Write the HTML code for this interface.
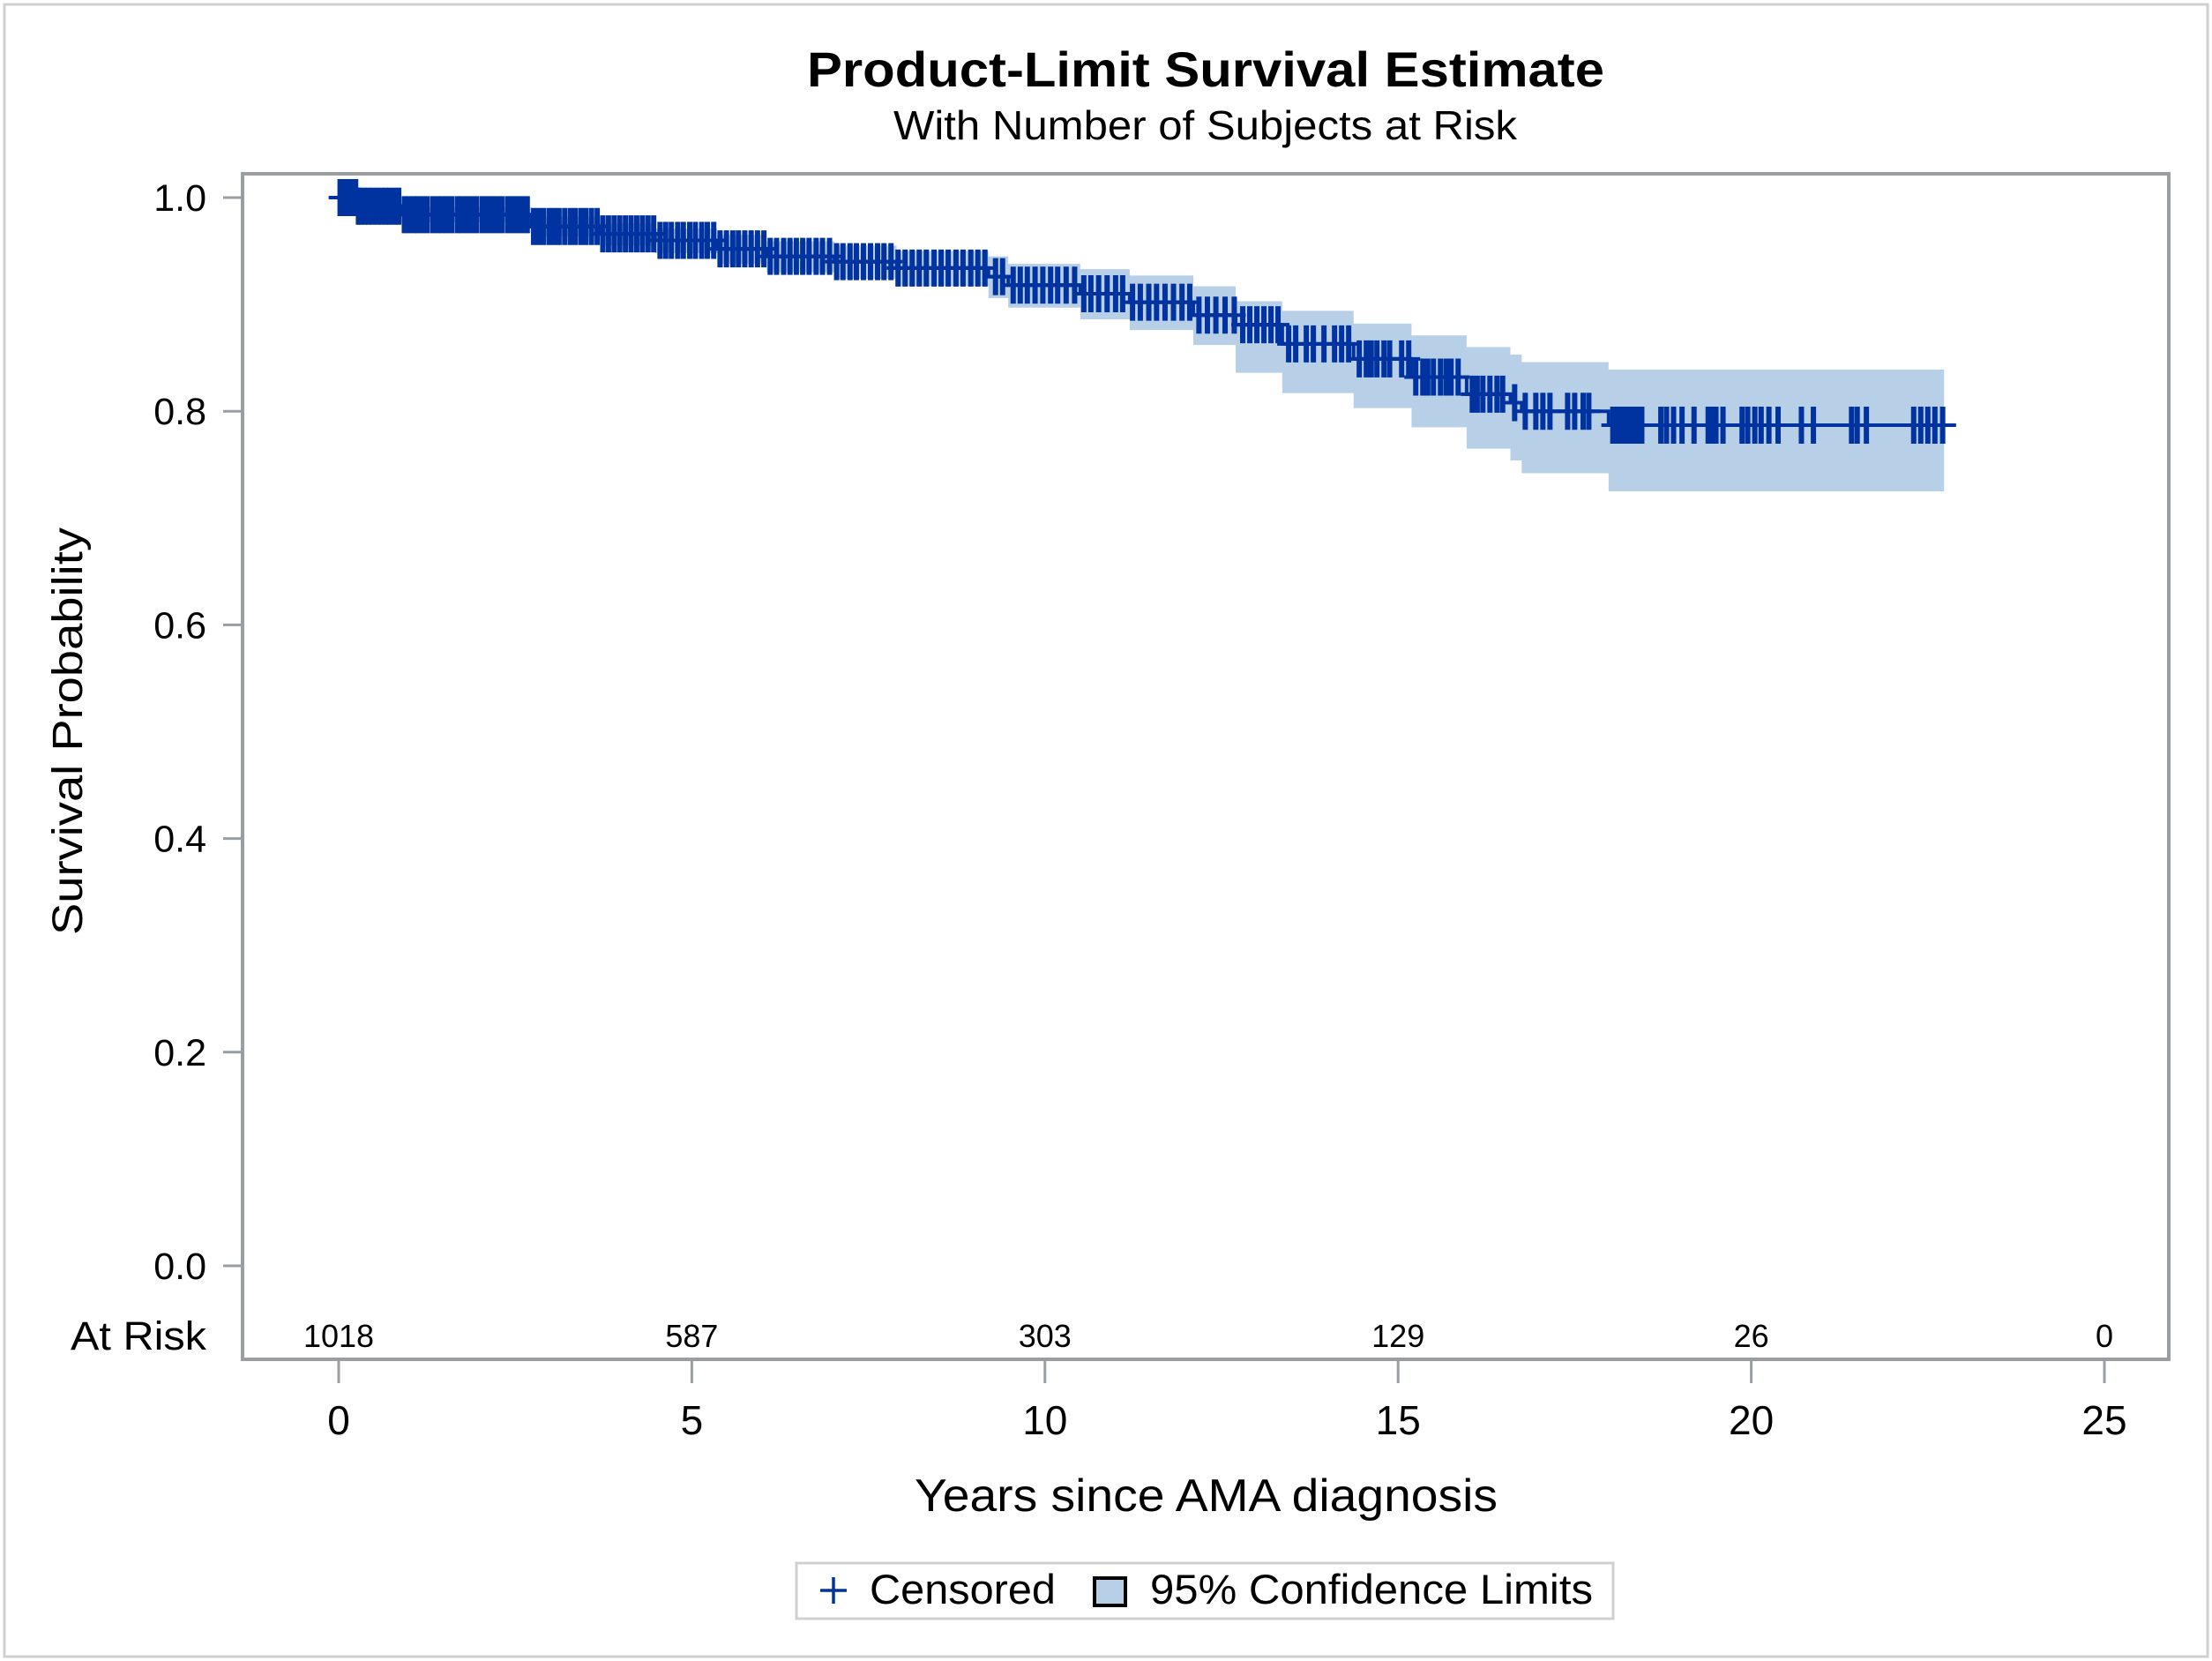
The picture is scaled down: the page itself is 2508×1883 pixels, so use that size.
<!DOCTYPE html>
<html><head><meta charset="utf-8"><style>
html,body{margin:0;padding:0;background:#fff}
svg{display:block}
text{font-family:"Liberation Sans",sans-serif;fill:#000}
</style></head><body>
<svg id="chart" width="2508" height="1883" viewBox="0 0 2508 1883" xmlns="http://www.w3.org/2000/svg">
<rect x="5" y="5" width="2498" height="1873" fill="#fff" stroke="#d0d0d0" stroke-width="3"/>
<text x="915" y="98" font-size="56" font-weight="bold" textLength="904" lengthAdjust="spacingAndGlyphs">Product-Limit Survival Estimate</text>
<text x="1013" y="158" font-size="46" textLength="707" lengthAdjust="spacingAndGlyphs">With Number of Subjects at Risk</text>
<g id="band"></g>
<g id="curve"></g>
<g id="yaxis"></g>
<g id="xaxis"></g>
<g id="risk"></g>
<rect x="275" y="197" width="2184" height="1344" fill="none" stroke="#999ea3" stroke-width="4"/>
<text x="0" y="0" font-size="48" textLength="462" lengthAdjust="spacingAndGlyphs" text-anchor="middle" transform="translate(93,829) rotate(-90)">Survival Probability</text>
<text x="1037" y="1713" font-size="52" textLength="661" lengthAdjust="spacingAndGlyphs">Years since AMA diagnosis</text>
<g>
<rect x="903" y="1772" width="926" height="63" fill="#fff" stroke="#d0d0d0" stroke-width="3"/>
<g><line x1="930" y1="1803" x2="960" y2="1803" stroke="#0033a0" stroke-width="3.5"/><line x1="945" y1="1788" x2="945" y2="1818" stroke="#0033a0" stroke-width="3.5"/></g>
<text x="986" y="1818" font-size="47" textLength="211" lengthAdjust="spacingAndGlyphs">Censored</text>
<rect x="1241" y="1789" width="35" height="31" fill="#b8cfe8" stroke="#000" stroke-width="4"/>
<text x="1304" y="1818" font-size="47" textLength="502" lengthAdjust="spacingAndGlyphs">95% Confidence Limits</text>
</g>
</svg>
<script>
const stepTimes = [0, 0.28, 0.89, 2.73, 3.70, 4.48, 5.36, 6.06, 7.02, 7.90, 9.20, 9.48, 10.5, 11.2, 12.1, 12.7, 13.36, 14.37, 15.19, 15.97, 16.59, 16.75, 17.98];
const survival = [1.0, 0.992, 0.984, 0.973, 0.966, 0.960, 0.952, 0.945, 0.940, 0.934, 0.926, 0.918, 0.910, 0.902, 0.890, 0.881, 0.863, 0.849, 0.832, 0.816, 0.808, 0.800, 0.787];
const lowerCL = [1.0, 0.986, 0.977, 0.964, 0.955, 0.948, 0.938, 0.930, 0.924, 0.917, 0.906, 0.897, 0.886, 0.876, 0.862, 0.836, 0.817, 0.803, 0.785, 0.765, 0.754, 0.742, 0.725];
const upperCL = [1.0, 0.997, 0.991, 0.982, 0.976, 0.971, 0.965, 0.959, 0.955, 0.950, 0.945, 0.938, 0.933, 0.927, 0.917, 0.903, 0.894, 0.882, 0.871, 0.860, 0.853, 0.846, 0.839];
const bandEnd = 22.73;
const lineEnd = 22.9;
const censorTimes = [0.02,0.05,0.08,0.13,0.16,0.19,0.24,0.28,0.31,0.37,0.42,0.48,0.55,0.61,0.67,0.72,0.79,0.85,0.93,0.99,1.06,1.12,1.19,1.25,1.33,1.4,1.46,1.53,1.6,1.68,1.74,1.81,1.88,1.95,2.03,2.1,2.17,2.24,2.31,2.39,2.46,2.53,2.6,2.67,2.76,2.83,2.9,2.98,3.05,3.12,3.2,3.28,3.35,3.43,3.5,3.58,3.66,3.74,3.82,3.9,3.98,4.06,4.14,4.22,4.3,4.38,4.46,4.55,4.63,4.71,4.8,4.88,4.97,5.05,5.14,5.22,5.31,5.4,5.49,5.58,5.66,5.75,5.84,5.93,6.02,6.11,6.2,6.3,6.39,6.48,6.57,6.66,6.76,6.85,6.95,7.05,7.14,7.24,7.33,7.43,7.53,7.63,7.72,7.82,7.92,8.02,8.12,8.22,8.32,8.43,8.53,8.63,8.74,8.84,8.95,9.05,9.15,9.3,9.4,9.55,9.65,9.75,9.86,9.97,10.08,10.18,10.3,10.42,10.55,10.65,10.76,10.88,11.0,11.1,11.24,11.35,11.47,11.58,11.7,11.82,11.94,12.05,12.18,12.3,12.42,12.55,12.68,12.8,12.9,13.0,13.1,13.2,13.3,13.45,13.55,13.7,13.8,13.95,14.1,14.2,14.3,14.45,14.55,14.62,14.7,14.8,14.88,15.05,15.15,15.25,15.35,15.42,15.5,15.6,15.68,15.75,15.85,16.05,16.12,16.2,16.3,16.4,16.48,16.65,16.8,16.95,17.05,17.15,17.4,17.5,17.62,17.7,18.04,18.1,18.16,18.22,18.28,18.31,18.38,18.45,18.72,18.8,18.9,19.02,19.19,19.39,19.45,19.5,19.6,19.87,19.95,20.05,20.14,20.25,20.38,20.71,20.88,21.42,21.5,21.63,22.3,22.4,22.5,22.6,22.71];
const xTicks = [0, 5, 10, 15, 20, 25];
const yTicks = [0.0, 0.2, 0.4, 0.6, 0.8, 1.0];
const yTickLabels = ["0.0", "0.2", "0.4", "0.6", "0.8", "1.0"];
const atRisk = ["1018", "587", "303", "129", "26", "0"];

const NS = "http://www.w3.org/2000/svg";
const X0 = 384, XS = 80.08, Y0 = 1435, YS = 1211;
function sx(t){ return X0 + t * XS; }
function sy(v){ return Y0 - v * YS; }
function mk(tag, attrs, parent){ const e = document.createElementNS(NS, tag); for (const k in attrs) e.setAttribute(k, attrs[k]); parent.appendChild(e); return e; }
function survAt(t){ let s = survival[0]; for (let i = 0; i < stepTimes.length; i++) { if (stepTimes[i] <= t) s = survival[i]; } return s; }

const band = document.getElementById('band');
let up = "", lo = "";
for (let i = 0; i < stepTimes.length; i++) {
  const x1 = sx(stepTimes[i]);
  const x2 = sx(i + 1 < stepTimes.length ? stepTimes[i + 1] : bandEnd);
  up += (i === 0 ? "M" : "L") + x1 + "," + sy(upperCL[i]) + " L" + x2 + "," + sy(upperCL[i]) + " ";
}
for (let i = stepTimes.length - 1; i >= 0; i--) {
  const x1 = sx(stepTimes[i]);
  const x2 = sx(i + 1 < stepTimes.length ? stepTimes[i + 1] : bandEnd);
  lo += "L" + x2 + "," + sy(lowerCL[i]) + " L" + x1 + "," + sy(lowerCL[i]) + " ";
}
const bp = mk('path', {d: up + lo + "Z", fill: "#b8cfe8", stroke: "none"}, band);



const curve = document.getElementById('curve');
let d = "";
for (let i = 0; i < stepTimes.length; i++) {
  const x1 = sx(stepTimes[i]);
  const x2 = sx(i + 1 < stepTimes.length ? stepTimes[i + 1] : lineEnd);
  d += (i === 0 ? "M" : "L") + x1 + "," + sy(survival[i]) + " L" + x2 + "," + sy(survival[i]) + " ";
}
const cp = mk('path', {d: d, fill: "none", stroke: "#0033a0", "stroke-width": 4}, curve);


for (const t of censorTimes) {
  const cx = sx(t), cy = sy(survAt(t));
  const g = mk('g', {}, curve);
  
  
  mk('line', {x1: cx - 13, y1: cy, x2: cx + 13, y2: cy, stroke: "#0033a0", "stroke-width": 4}, g);
  mk('line', {x1: cx, y1: cy - 21, x2: cx, y2: cy + 21, stroke: "#0033a0", "stroke-width": 6}, g);
}

const ya = document.getElementById('yaxis');
yTicks.forEach((v, i) => {
  const tk = mk('line', {x1: 253, x2: 275, y1: sy(v), y2: sy(v), stroke: "#999ea3", "stroke-width": 3}, ya);
  
  
  const tx = mk('text', {x: 234, y: sy(v) + 15, "font-size": 43, "text-anchor": "end"}, ya);
  tx.textContent = yTickLabels[i];
  
  
});

const xa = document.getElementById('xaxis');
xTicks.forEach(v => {
  const tk = mk('line', {x1: sx(v), x2: sx(v), y1: 1541, y2: 1568, stroke: "#999ea3", "stroke-width": 3}, xa);
  
  
  const tx = mk('text', {x: sx(v), y: 1626, "font-size": 46, "text-anchor": "middle"}, xa);
  tx.textContent = String(v);
  
  
});

const rk = document.getElementById('risk');
const rl = mk('text', {x: 234, y: 1530, "font-size": 45, "text-anchor": "end", textLength: 154, lengthAdjust: "spacingAndGlyphs"}, rk);
rl.textContent = "At Risk";


atRisk.forEach((n, i) => {
  const tx = mk('text', {x: sx(xTicks[i]), y: 1527, "font-size": 36, "text-anchor": "middle"}, rk);
  tx.textContent = n;
  
  
});
</script>
</body></html>
